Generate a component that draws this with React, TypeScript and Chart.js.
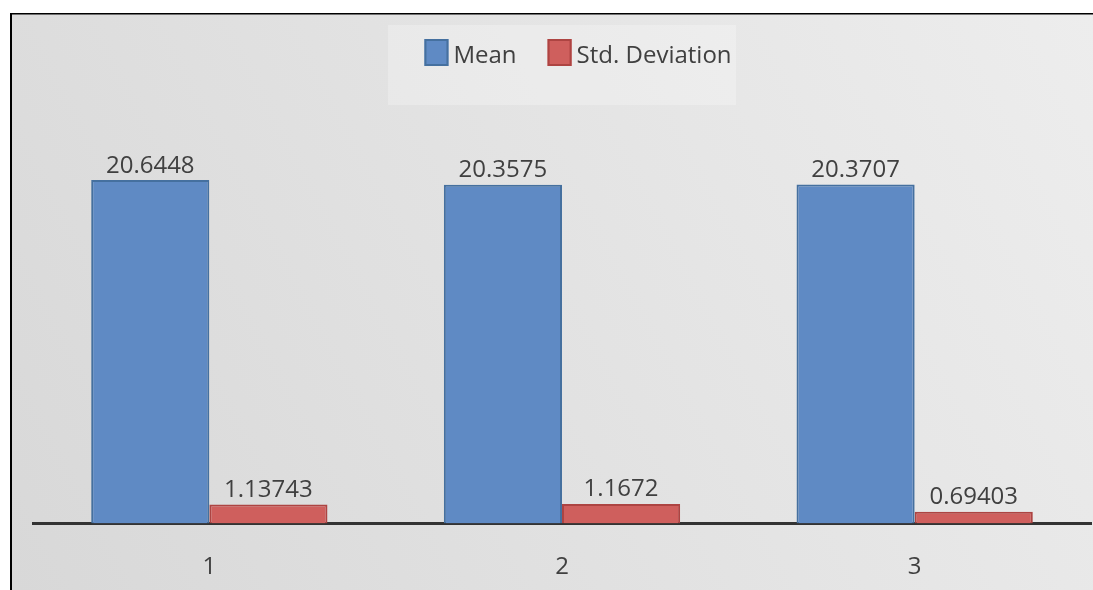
import React, { useEffect, useRef } from "react";
import { Chart, registerables } from "chart.js";

Chart.register(...registerables);

const categories = ["1", "2", "3"];
const meanValues = [20.6448, 20.3575, 20.3707];
const stdValues = [1.13743, 1.1672, 0.69403];
const meanLabels = ["20.6448", "20.3575", "20.3707"];
const stdLabels = ["1.13743", "1.1672", "0.69403"];

const FONT = "'Open Sans', 'Noto Sans', sans-serif";
const TEXT = "#404040";

const backgroundPlugin = {
  id: "bgFrame",
  beforeDraw(chart: any) {
    const { ctx, width, height } = chart;
    ctx.save();
    ctx.fillStyle = "#ffffff";
    ctx.fillRect(0, 0, width, height);
    const g = ctx.createLinearGradient(11, height, width, 14);
    g.addColorStop(0, "#d8d8d8");
    g.addColorStop(1, "#ededed");
    ctx.fillStyle = g;
    ctx.fillRect(11, 14, width - 11, height - 14);
    // legend light panel
    ctx.fillStyle = "rgba(255,255,255,0.25)";
    ctx.fillRect(388, 25, 348, 80);
    ctx.fillStyle = "#000000";
    ctx.fillRect(10, 13, 2, height - 13);
    ctx.fillRect(10, 13, width - 10, 1.5);
    ctx.restore();
  },
};

const labelsPlugin = {
  id: "valueLabels",
  afterDatasetsDraw(chart: any) {
    const { ctx } = chart;
    const texts = [meanLabels, stdLabels];
    ctx.save();
    ctx.font = `24px ${FONT}`;
    ctx.fillStyle = TEXT;
    ctx.textAlign = "center";
    ctx.textBaseline = "alphabetic";
    chart.data.datasets.forEach((_: any, di: number) => {
      const meta = chart.getDatasetMeta(di);
      meta.data.forEach((bar: any, i: number) => {
        ctx.fillText(texts[di][i], bar.x, bar.y - 7.5);
      });
    });
    ctx.restore();
  },
};

const legendPlugin = {
  id: "customLegend",
  afterDraw(chart: any) {
    const { ctx } = chart;
    ctx.save();
    ctx.font = `24px ${FONT}`;
    const boxW = 24;
    const boxH = 27;
    const gap = 5;
    const spacing = 31;
    const ds = chart.data.datasets;
    const widths = ds.map((d: any) => boxW + gap + ctx.measureText(d.label).width);
    const total = widths.reduce((a: number, b: number) => a + b, 0) + spacing * (ds.length - 1);
    let x = 578 - total / 2;
    ds.forEach((d: any, i: number) => {
      ctx.fillStyle = d.backgroundColor;
      ctx.fillRect(x, 39, boxW, boxH);
      ctx.strokeStyle = d.borderColor;
      ctx.lineWidth = 2;
      ctx.strokeRect(x + 1, 40, boxW - 2, boxH - 2);
      ctx.fillStyle = TEXT;
      ctx.textBaseline = "alphabetic";
      ctx.textAlign = "left";
      ctx.fillText(d.label, x + boxW + gap, 63);
      x += widths[i] + spacing;
    });
    ctx.restore();
  },
};

export default function App() {
  const ref = useRef<HTMLCanvasElement>(null);
  useEffect(() => {
    document.body.style.margin = "0";
    const chart = new Chart(ref.current!, {
      type: "bar",
      data: {
        labels: categories,
        datasets: [
          {
            label: "Mean",
            data: meanValues,
            backgroundColor: "#5f8ac4",
            borderColor: "#45709f",
            borderWidth: 2,
            categoryPercentage: 0.67,
            barPercentage: 1.0,
          },
          {
            label: "Std. Deviation",
            data: stdValues,
            backgroundColor: "#cf5f5d",
            borderColor: "#ad4442",
            borderWidth: 2,
            categoryPercentage: 0.67,
            barPercentage: 1.0,
          },
        ],
      },
      options: {
        responsive: false,
        animation: false,
        layout: { padding: { left: 33, right: 2, top: 107.6, bottom: -21.4 } },
        plugins: {
          legend: { display: false },
          tooltip: { enabled: false },
        },
        scales: {
          x: {
            grid: { display: false, drawTicks: false },
            border: { display: true, color: "#333333", width: 3 },
            ticks: { color: TEXT, font: { family: FONT, size: 24 }, padding: 29.6 },
          },
          y: {
            display: false,
            min: 0,
            max: 25,
          },
        },
      },
      plugins: [backgroundPlugin, labelsPlugin, legendPlugin],
    });
    return () => chart.destroy();
  }, []);
  return (
    <div style={{ position: "relative", width: 1093, height: 590, overflow: "hidden" }}>
      <canvas ref={ref} width={1093} height={590} style={{ display: "block" }} />
    </div>
  );
}
